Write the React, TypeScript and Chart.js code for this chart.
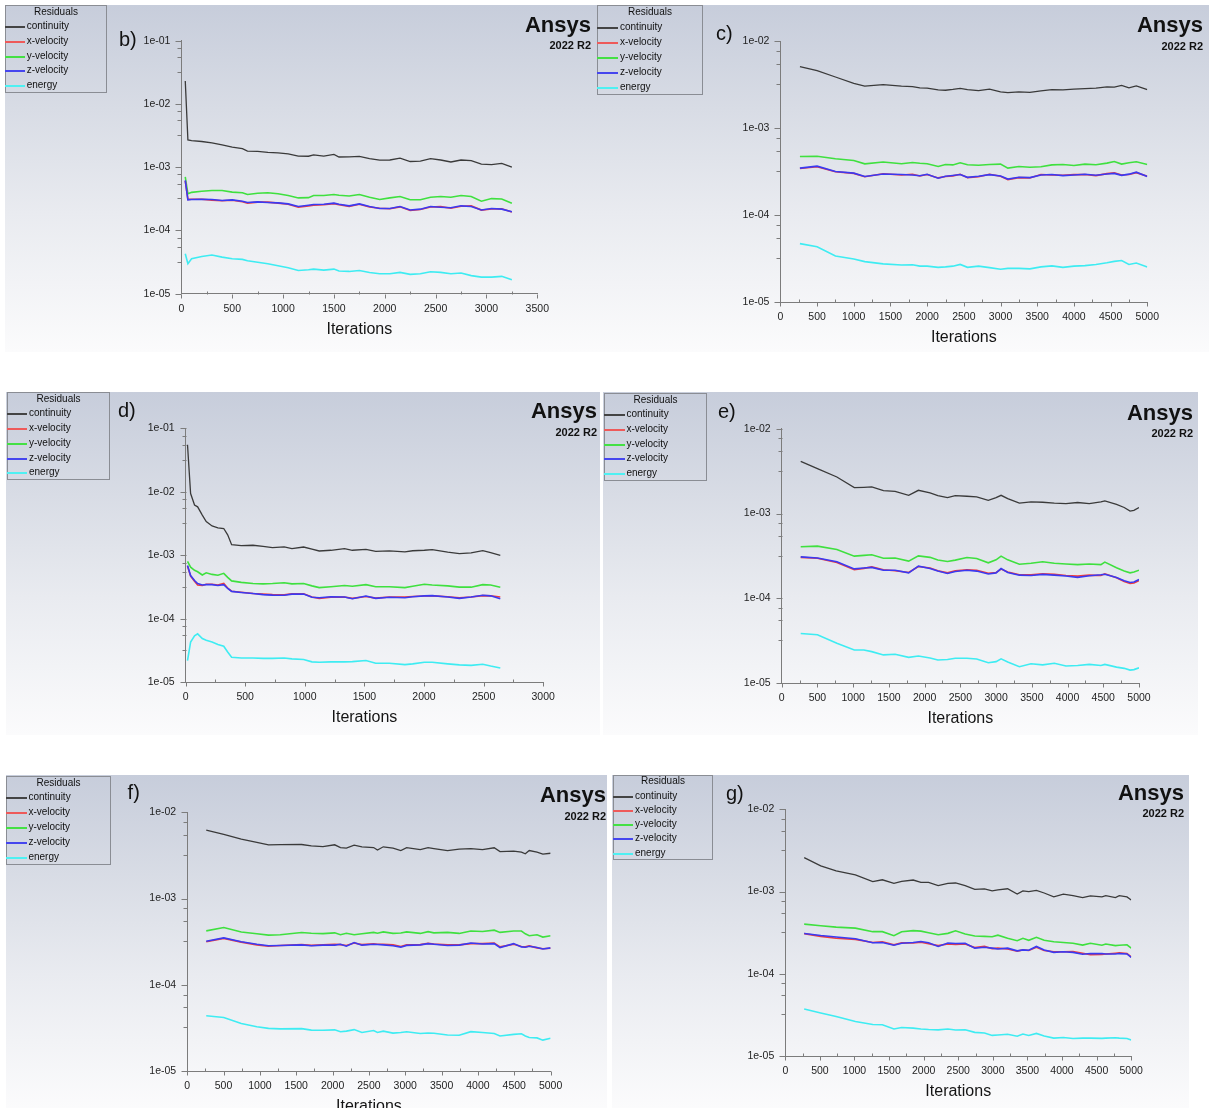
import React, { useEffect, useRef } from 'react';
import { Chart, registerables } from 'chart.js';

Chart.register(...registerables);
Chart.defaults.font.family = "'Liberation Sans', Arial, sans-serif";

// ---------------- data ----------------
const SERIES_NAMES = ['continuity', 'x-velocity', 'y-velocity', 'z-velocity', 'energy'];
const X_MAJOR_STEP = 500;
const X_MINOR_STEP = 250;
const Y_MIN_EXP = -5;
const Y_MINOR_MANTISSAS = [3.2, 5.5, 7.7];

// panel b)
const B_ITERS = [38, 64, 100, 200, 300, 400, 500, 600, 650, 750, 850, 950, 1050, 1150, 1250, 1300, 1400, 1500, 1550, 1650, 1750, 1850, 1950, 2050, 2150, 2250, 2350, 2450, 2550, 2650, 2750, 2850, 2950, 3050, 3150, 3250];
const B_CONTINUITY = [2.3e-2, 2.7e-3, 2.64e-3, 2.55e-3, 2.43e-3, 2.25e-3, 2.07e-3, 1.97e-3, 1.8e-3, 1.78e-3, 1.72e-3, 1.68e-3, 1.63e-3, 1.5e-3, 1.49e-3, 1.57e-3, 1.5e-3, 1.59e-3, 1.45e-3, 1.46e-3, 1.48e-3, 1.37e-3, 1.29e-3, 1.3e-3, 1.39e-3, 1.23e-3, 1.25e-3, 1.37e-3, 1.3e-3, 1.21e-3, 1.3e-3, 1.27e-3, 1.12e-3, 1.1e-3, 1.15e-3, 1.0e-3];
const B_XVEL = [6.1e-4, 3.1e-4, 3.12e-4, 3.12e-4, 3.02e-4, 2.95e-4, 3.0e-4, 2.85e-4, 2.7e-4, 2.8e-4, 2.8e-4, 2.7e-4, 2.6e-4, 2.33e-4, 2.45e-4, 2.5e-4, 2.55e-4, 2.65e-4, 2.55e-4, 2.4e-4, 2.6e-4, 2.35e-4, 2.25e-4, 2.2e-4, 2.36e-4, 2.07e-4, 2.15e-4, 2.35e-4, 2.38e-4, 2.25e-4, 2.42e-4, 2.45e-4, 2.1e-4, 2.18e-4, 2.2e-4, 1.96e-4];
const B_YVEL = [7.0e-4, 3.8e-4, 4.0e-4, 4.17e-4, 4.28e-4, 4.28e-4, 4.03e-4, 3.95e-4, 3.7e-4, 3.87e-4, 3.95e-4, 3.8e-4, 3.56e-4, 3.27e-4, 3.3e-4, 3.56e-4, 3.56e-4, 3.7e-4, 3.6e-4, 3.5e-4, 3.7e-4, 3.35e-4, 3.08e-4, 3.27e-4, 3.44e-4, 3.05e-4, 3.05e-4, 3.35e-4, 3.44e-4, 3.35e-4, 3.56e-4, 3.44e-4, 2.9e-4, 3.19e-4, 3.15e-4, 2.7e-4];
const B_ZVEL = [6.2e-4, 3.04e-4, 3.08e-4, 3.1e-4, 3.08e-4, 2.97e-4, 3.04e-4, 2.9e-4, 2.77e-4, 2.83e-4, 2.77e-4, 2.73e-4, 2.63e-4, 2.39e-4, 2.51e-4, 2.57e-4, 2.6e-4, 2.7e-4, 2.6e-4, 2.45e-4, 2.63e-4, 2.39e-4, 2.22e-4, 2.22e-4, 2.39e-4, 2.11e-4, 2.17e-4, 2.39e-4, 2.33e-4, 2.28e-4, 2.45e-4, 2.39e-4, 2.11e-4, 2.22e-4, 2.17e-4, 1.98e-4];
const B_ENERGY = [4.28e-5, 2.97e-5, 3.56e-5, 3.88e-5, 4.08e-5, 3.79e-5, 3.56e-5, 3.49e-5, 3.32e-5, 3.15e-5, 2.97e-5, 2.77e-5, 2.57e-5, 2.33e-5, 2.39e-5, 2.45e-5, 2.36e-5, 2.45e-5, 2.28e-5, 2.25e-5, 2.33e-5, 2.17e-5, 2.07e-5, 2.07e-5, 2.17e-5, 2.02e-5, 2.07e-5, 2.22e-5, 2.17e-5, 2.07e-5, 2.12e-5, 1.93e-5, 1.83e-5, 1.83e-5, 1.88e-5, 1.66e-5];

// panel c)
const C_ITERS = [266, 500, 750, 1000, 1150, 1400, 1650, 1800, 1900, 2000, 2150, 2250, 2350, 2450, 2550, 2700, 2850, 3000, 3100, 3250, 3400, 3550, 3700, 3850, 4000, 4150, 4300, 4450, 4550, 4650, 4750, 4850, 5000];
const C_CONTINUITY = [5.07e-3, 4.56e-3, 3.86e-3, 3.26e-3, 3.04e-3, 3.15e-3, 3.04e-3, 3.0e-3, 2.9e-3, 2.88e-3, 2.75e-3, 2.72e-3, 2.78e-3, 2.86e-3, 2.76e-3, 2.7e-3, 2.8e-3, 2.6e-3, 2.55e-3, 2.6e-3, 2.57e-3, 2.68e-3, 2.76e-3, 2.74e-3, 2.8e-3, 2.84e-3, 2.88e-3, 2.98e-3, 2.96e-3, 3.1e-3, 2.9e-3, 3.05e-3, 2.76e-3];
const C_XVEL = [3.43e-4, 3.6e-4, 3.15e-4, 3.02e-4, 2.76e-4, 2.99e-4, 2.9e-4, 2.95e-4, 2.82e-4, 2.93e-4, 2.68e-4, 2.78e-4, 2.83e-4, 2.95e-4, 2.7e-4, 2.76e-4, 2.95e-4, 2.8e-4, 2.56e-4, 2.7e-4, 2.68e-4, 2.93e-4, 2.9e-4, 2.88e-4, 2.92e-4, 2.93e-4, 2.85e-4, 3.0e-4, 3.06e-4, 2.9e-4, 2.93e-4, 3.08e-4, 2.8e-4];
const C_YVEL = [4.72e-4, 4.76e-4, 4.44e-4, 4.25e-4, 3.89e-4, 4.08e-4, 3.89e-4, 4.03e-4, 3.95e-4, 3.89e-4, 3.63e-4, 3.82e-4, 3.78e-4, 4.0e-4, 3.8e-4, 3.74e-4, 3.82e-4, 3.86e-4, 3.47e-4, 3.62e-4, 3.55e-4, 3.6e-4, 3.78e-4, 3.82e-4, 3.72e-4, 3.86e-4, 3.8e-4, 3.96e-4, 4.14e-4, 3.86e-4, 4.0e-4, 4.1e-4, 3.82e-4];
const C_ZVEL = [3.47e-4, 3.66e-4, 3.17e-4, 3.04e-4, 2.78e-4, 2.97e-4, 2.93e-4, 2.9e-4, 2.84e-4, 2.95e-4, 2.66e-4, 2.8e-4, 2.86e-4, 2.93e-4, 2.72e-4, 2.8e-4, 2.92e-4, 2.82e-4, 2.6e-4, 2.73e-4, 2.7e-4, 2.9e-4, 2.93e-4, 2.85e-4, 2.9e-4, 2.95e-4, 2.87e-4, 2.97e-4, 3.02e-4, 2.87e-4, 2.96e-4, 3.12e-4, 2.78e-4];
const C_ENERGY = [4.72e-5, 4.35e-5, 3.4e-5, 3.14e-5, 2.93e-5, 2.76e-5, 2.68e-5, 2.7e-5, 2.6e-5, 2.6e-5, 2.52e-5, 2.55e-5, 2.6e-5, 2.72e-5, 2.52e-5, 2.6e-5, 2.5e-5, 2.4e-5, 2.45e-5, 2.45e-5, 2.42e-5, 2.55e-5, 2.62e-5, 2.52e-5, 2.6e-5, 2.64e-5, 2.72e-5, 2.84e-5, 2.95e-5, 3.02e-5, 2.72e-5, 2.82e-5, 2.55e-5];

// panel d)
const D_ITERS = [16, 42, 75, 101, 140, 173, 222, 271, 320, 353, 386, 467, 565, 650, 729, 827, 892, 990, 1060, 1121, 1219, 1333, 1399, 1513, 1595, 1709, 1840, 1905, 2003, 2069, 2199, 2297, 2395, 2493, 2559, 2640];
const D_CONTINUITY = [5.5e-2, 9.4e-3, 6.2e-3, 5.8e-3, 4.3e-3, 3.4e-3, 2.9e-3, 2.7e-3, 2.64e-3, 2.1e-3, 1.47e-3, 1.42e-3, 1.44e-3, 1.38e-3, 1.32e-3, 1.36e-3, 1.27e-3, 1.35e-3, 1.25e-3, 1.17e-3, 1.2e-3, 1.27e-3, 1.2e-3, 1.24e-3, 1.15e-3, 1.17e-3, 1.13e-3, 1.18e-3, 1.2e-3, 1.23e-3, 1.12e-3, 1.06e-3, 1.09e-3, 1.18e-3, 1.1e-3, 1.0e-3];
const D_XVEL = [6.8e-4, 4.7e-4, 3.9e-4, 3.4e-4, 3.35e-4, 3.5e-4, 3.5e-4, 3.4e-4, 3.6e-4, 3.05e-4, 2.72e-4, 2.62e-4, 2.5e-4, 2.45e-4, 2.4e-4, 2.38e-4, 2.48e-4, 2.48e-4, 2.2e-4, 2.1e-4, 2.18e-4, 2.2e-4, 2.1e-4, 2.25e-4, 2.12e-4, 2.2e-4, 2.2e-4, 2.25e-4, 2.28e-4, 2.3e-4, 2.22e-4, 2.15e-4, 2.2e-4, 2.32e-4, 2.3e-4, 2.2e-4];
const D_YVEL = [8.0e-4, 6.5e-4, 5.8e-4, 5.5e-4, 4.9e-4, 5.3e-4, 5.0e-4, 4.85e-4, 5.2e-4, 4.5e-4, 3.95e-4, 3.75e-4, 3.6e-4, 3.55e-4, 3.6e-4, 3.7e-4, 3.55e-4, 3.6e-4, 3.3e-4, 3.1e-4, 3.2e-4, 3.35e-4, 3.25e-4, 3.45e-4, 3.2e-4, 3.2e-4, 3.1e-4, 3.25e-4, 3.5e-4, 3.4e-4, 3.3e-4, 3.15e-4, 3.15e-4, 3.45e-4, 3.4e-4, 3.15e-4];
const D_ZVEL = [6.9e-4, 4.8e-4, 4.0e-4, 3.6e-4, 3.4e-4, 3.45e-4, 3.45e-4, 3.35e-4, 3.45e-4, 3.0e-4, 2.7e-4, 2.6e-4, 2.5e-4, 2.4e-4, 2.36e-4, 2.35e-4, 2.45e-4, 2.45e-4, 2.18e-4, 2.15e-4, 2.22e-4, 2.2e-4, 2.07e-4, 2.28e-4, 2.1e-4, 2.18e-4, 2.15e-4, 2.22e-4, 2.3e-4, 2.32e-4, 2.2e-4, 2.1e-4, 2.2e-4, 2.35e-4, 2.3e-4, 2.07e-4];
const D_ENERGY = [2.2e-5, 4.3e-5, 5.4e-5, 5.8e-5, 4.9e-5, 4.6e-5, 4.3e-5, 3.95e-5, 3.7e-5, 3.0e-5, 2.48e-5, 2.42e-5, 2.42e-5, 2.38e-5, 2.38e-5, 2.42e-5, 2.34e-5, 2.28e-5, 2.1e-5, 2.07e-5, 2.1e-5, 2.1e-5, 2.12e-5, 2.2e-5, 2.0e-5, 2.0e-5, 1.9e-5, 1.95e-5, 2.07e-5, 2.07e-5, 1.95e-5, 1.88e-5, 1.85e-5, 1.92e-5, 1.8e-5, 1.68e-5];

// panel e)
const E_ITERS = [266, 500, 772, 1016, 1150, 1260, 1424, 1587, 1777, 1913, 2076, 2185, 2320, 2429, 2592, 2728, 2891, 3000, 3070, 3163, 3326, 3489, 3652, 3815, 3978, 4141, 4304, 4467, 4522, 4685, 4793, 4875, 4929, 5000];
const E_CONTINUITY = [4.13e-3, 3.38e-3, 2.7e-3, 2.02e-3, 2.04e-3, 2.06e-3, 1.86e-3, 1.83e-3, 1.64e-3, 1.88e-3, 1.75e-3, 1.63e-3, 1.54e-3, 1.63e-3, 1.6e-3, 1.57e-3, 1.43e-3, 1.54e-3, 1.64e-3, 1.5e-3, 1.33e-3, 1.37e-3, 1.36e-3, 1.33e-3, 1.31e-3, 1.35e-3, 1.31e-3, 1.37e-3, 1.41e-3, 1.28e-3, 1.18e-3, 1.07e-3, 1.09e-3, 1.18e-3];
const E_XVEL = [3.05e-4, 2.97e-4, 2.65e-4, 2.18e-4, 2.26e-4, 2.35e-4, 2.18e-4, 2.12e-4, 2.02e-4, 2.38e-4, 2.28e-4, 2.12e-4, 2.0e-4, 2.12e-4, 2.18e-4, 2.15e-4, 1.98e-4, 2.02e-4, 2.22e-4, 2.05e-4, 1.9e-4, 1.9e-4, 1.95e-4, 1.92e-4, 1.86e-4, 1.83e-4, 1.88e-4, 1.86e-4, 1.95e-4, 1.75e-4, 1.58e-4, 1.5e-4, 1.52e-4, 1.62e-4];
const E_YVEL = [4.06e-4, 4.13e-4, 3.77e-4, 3.15e-4, 3.22e-4, 3.27e-4, 2.98e-4, 3.0e-4, 2.75e-4, 3.17e-4, 3.05e-4, 2.83e-4, 2.73e-4, 2.83e-4, 3.04e-4, 2.95e-4, 2.63e-4, 2.85e-4, 3.15e-4, 2.85e-4, 2.53e-4, 2.6e-4, 2.7e-4, 2.6e-4, 2.55e-4, 2.5e-4, 2.55e-4, 2.5e-4, 2.68e-4, 2.3e-4, 2.1e-4, 2.0e-4, 2.05e-4, 2.15e-4];
const E_ZVEL = [3.09e-4, 3.0e-4, 2.7e-4, 2.23e-4, 2.28e-4, 2.32e-4, 2.15e-4, 2.15e-4, 2.0e-4, 2.4e-4, 2.25e-4, 2.1e-4, 1.97e-4, 2.08e-4, 2.15e-4, 2.1e-4, 1.94e-4, 2.0e-4, 2.25e-4, 2.02e-4, 1.88e-4, 1.86e-4, 1.92e-4, 1.88e-4, 1.84e-4, 1.77e-4, 1.85e-4, 1.9e-4, 1.93e-4, 1.77e-4, 1.62e-4, 1.54e-4, 1.56e-4, 1.67e-4];
const E_ENERGY = [3.87e-5, 3.74e-5, 2.96e-5, 2.47e-5, 2.47e-5, 2.36e-5, 2.16e-5, 2.2e-5, 2.02e-5, 2.1e-5, 1.99e-5, 1.88e-5, 1.91e-5, 1.97e-5, 1.97e-5, 1.93e-5, 1.75e-5, 1.8e-5, 1.94e-5, 1.78e-5, 1.57e-5, 1.7e-5, 1.65e-5, 1.72e-5, 1.6e-5, 1.62e-5, 1.67e-5, 1.62e-5, 1.67e-5, 1.55e-5, 1.5e-5, 1.43e-5, 1.45e-5, 1.52e-5];

// panel f)
const F_ITERS = [262, 503, 744, 958, 1119, 1280, 1574, 1708, 1868, 2029, 2109, 2190, 2297, 2404, 2565, 2618, 2698, 2832, 2939, 3019, 3207, 3314, 3394, 3582, 3742, 3903, 4063, 4224, 4304, 4492, 4599, 4652, 4706, 4813, 4893, 5000];
const F_CONTINUITY = [6.2e-3, 5.56e-3, 4.9e-3, 4.49e-3, 4.19e-3, 4.22e-3, 4.23e-3, 4.08e-3, 4.0e-3, 4.2e-3, 3.9e-3, 3.85e-3, 4.15e-3, 3.98e-3, 3.9e-3, 3.65e-3, 3.98e-3, 3.85e-3, 3.6e-3, 3.9e-3, 3.7e-3, 3.9e-3, 3.8e-3, 3.6e-3, 3.75e-3, 3.8e-3, 3.7e-3, 3.88e-3, 3.5e-3, 3.55e-3, 3.45e-3, 3.3e-3, 3.6e-3, 3.45e-3, 3.27e-3, 3.35e-3];
const F_XVEL = [3.15e-4, 3.45e-4, 3.12e-4, 2.9e-4, 2.8e-4, 2.85e-4, 2.92e-4, 2.86e-4, 2.9e-4, 2.95e-4, 2.92e-4, 2.85e-4, 3.05e-4, 2.92e-4, 2.98e-4, 2.95e-4, 2.95e-4, 2.9e-4, 2.78e-4, 2.9e-4, 2.92e-4, 3.02e-4, 2.97e-4, 2.9e-4, 2.9e-4, 3.0e-4, 3.0e-4, 3.05e-4, 2.75e-4, 2.95e-4, 2.78e-4, 2.75e-4, 2.82e-4, 2.68e-4, 2.62e-4, 2.65e-4];
const F_YVEL = [4.22e-4, 4.61e-4, 4.1e-4, 3.9e-4, 3.76e-4, 3.8e-4, 4.04e-4, 3.96e-4, 3.92e-4, 4.0e-4, 3.8e-4, 3.95e-4, 3.8e-4, 3.9e-4, 4.05e-4, 3.96e-4, 4.1e-4, 3.94e-4, 3.98e-4, 4.1e-4, 3.94e-4, 4.13e-4, 4.0e-4, 4.05e-4, 3.94e-4, 4.2e-4, 4.15e-4, 4.3e-4, 4.05e-4, 4.2e-4, 4.2e-4, 3.9e-4, 3.7e-4, 3.8e-4, 3.57e-4, 3.7e-4];
const F_ZVEL = [3.2e-4, 3.5e-4, 3.15e-4, 2.95e-4, 2.83e-4, 2.85e-4, 2.9e-4, 2.83e-4, 2.88e-4, 2.88e-4, 2.95e-4, 2.8e-4, 3.09e-4, 2.88e-4, 2.95e-4, 2.93e-4, 2.9e-4, 2.83e-4, 2.73e-4, 2.86e-4, 2.9e-4, 3.0e-4, 2.95e-4, 2.85e-4, 2.88e-4, 3.05e-4, 2.97e-4, 3.0e-4, 2.7e-4, 3.0e-4, 2.75e-4, 2.72e-4, 2.8e-4, 2.7e-4, 2.6e-4, 2.68e-4];
const F_ENERGY = [4.37e-5, 4.18e-5, 3.56e-5, 3.26e-5, 3.12e-5, 3.08e-5, 3.1e-5, 2.98e-5, 2.97e-5, 3.0e-5, 2.85e-5, 2.9e-5, 3.02e-5, 2.8e-5, 2.95e-5, 2.8e-5, 2.9e-5, 2.75e-5, 2.8e-5, 2.85e-5, 2.72e-5, 2.76e-5, 2.74e-5, 2.62e-5, 2.6e-5, 2.86e-5, 2.8e-5, 2.72e-5, 2.55e-5, 2.66e-5, 2.7e-5, 2.55e-5, 2.45e-5, 2.42e-5, 2.28e-5, 2.4e-5];

// panel g)
const G_ITERS = [273, 512, 735, 1013, 1264, 1403, 1570, 1682, 1849, 1960, 2071, 2210, 2350, 2461, 2600, 2739, 2879, 2990, 3073, 3213, 3352, 3435, 3519, 3630, 3742, 3881, 4020, 4159, 4298, 4410, 4577, 4633, 4772, 4827, 4939, 5000];
const G_CONTINUITY = [2.58e-3, 2.05e-3, 1.78e-3, 1.59e-3, 1.32e-3, 1.39e-3, 1.26e-3, 1.33e-3, 1.38e-3, 1.29e-3, 1.29e-3, 1.18e-3, 1.26e-3, 1.27e-3, 1.18e-3, 1.06e-3, 1.08e-3, 1.02e-3, 1.05e-3, 1.08e-3, 9.3e-4, 1.02e-3, 1.0e-3, 1.03e-3, 9.6e-4, 8.6e-4, 9.3e-4, 8.9e-4, 8.45e-4, 8.85e-4, 8.6e-4, 8.9e-4, 8.45e-4, 8.9e-4, 8.6e-4, 7.9e-4];
const G_XVEL = [3.08e-4, 2.85e-4, 2.7e-4, 2.62e-4, 2.4e-4, 2.45e-4, 2.25e-4, 2.38e-4, 2.37e-4, 2.42e-4, 2.32e-4, 2.2e-4, 2.3e-4, 2.28e-4, 2.3e-4, 2.08e-4, 2.15e-4, 2.02e-4, 2.05e-4, 2.0e-4, 1.88e-4, 1.95e-4, 1.92e-4, 2.1e-4, 1.92e-4, 1.85e-4, 1.85e-4, 1.86e-4, 1.78e-4, 1.7e-4, 1.72e-4, 1.74e-4, 1.78e-4, 1.8e-4, 1.76e-4, 1.6e-4];
const G_YVEL = [4.01e-4, 3.83e-4, 3.69e-4, 3.59e-4, 3.25e-4, 3.25e-4, 2.9e-4, 3.25e-4, 3.35e-4, 3.3e-4, 3.15e-4, 2.98e-4, 3.1e-4, 3.33e-4, 3.05e-4, 2.88e-4, 2.85e-4, 2.82e-4, 2.95e-4, 2.7e-4, 2.52e-4, 2.7e-4, 2.55e-4, 2.78e-4, 2.55e-4, 2.45e-4, 2.4e-4, 2.35e-4, 2.23e-4, 2.35e-4, 2.22e-4, 2.3e-4, 2.2e-4, 2.22e-4, 2.25e-4, 2.05e-4];
const G_ZVEL = [3.09e-4, 2.92e-4, 2.8e-4, 2.66e-4, 2.38e-4, 2.4e-4, 2.22e-4, 2.35e-4, 2.4e-4, 2.47e-4, 2.38e-4, 2.15e-4, 2.36e-4, 2.33e-4, 2.35e-4, 2.05e-4, 2.1e-4, 2.05e-4, 2.0e-4, 2.05e-4, 1.9e-4, 1.95e-4, 1.93e-4, 2.15e-4, 1.95e-4, 1.82e-4, 1.85e-4, 1.82e-4, 1.73e-4, 1.76e-4, 1.76e-4, 1.74e-4, 1.74e-4, 1.76e-4, 1.74e-4, 1.58e-4];
const G_ENERGY = [3.72e-5, 3.33e-5, 3.03e-5, 2.63e-5, 2.42e-5, 2.4e-5, 2.13e-5, 2.22e-5, 2.18e-5, 2.13e-5, 2.1e-5, 2.08e-5, 2.13e-5, 2.07e-5, 2.08e-5, 1.94e-5, 1.9e-5, 1.78e-5, 1.8e-5, 1.84e-5, 1.74e-5, 1.85e-5, 1.78e-5, 1.88e-5, 1.75e-5, 1.65e-5, 1.68e-5, 1.63e-5, 1.65e-5, 1.65e-5, 1.64e-5, 1.65e-5, 1.67e-5, 1.65e-5, 1.63e-5, 1.56e-5];

// ---------------- styles / layout ----------------
const SERIES_COLORS = ['#3a3a3a', '#f23c3c', '#3fe03f', '#3a3af2', '#3eecf2'];
const LEGEND_COLORS = ['#444444', '#ee5a5a', '#44e044', '#4646ee', '#4ef0f2'];
const DRAW_ORDER = [0, 2, 3, 1, 4];
const AXIS_COLOR = '#7c7c7c';
const FONT = "'Liberation Sans', Arial, sans-serif";
const CANVAS_H = 350;
const Y_AXIS_W = 60;
const X_AXIS_H = 45;
const BG = 'linear-gradient(180deg, #c7cddb 0%, #d8dce5 30%, #e9ebf0 60%, #fbfbfc 100%)';

type Box = { x: number; y: number; w: number; h: number };
type PanelCfg = {
  label: string;
  box: Box;
  area: { l: number; t: number; r: number; b: number };
  xMax: number;
  yTopExp: number;
  labelPos: { x: number; cy: number };
  legend: Box & { titleY: number; items: number[]; textX: number; lineX2: number };
  logo: { right: number; y1: number; y2: number };
  iters: number[];
  series: number[][];
};

const PANELS: PanelCfg[] = [
  {
    label: 'b)', box: { x: 5, y: 5, w: 592, h: 347 }, area: { l: 181.4, t: 40.7, r: 537.3, b: 293.7 },
    xMax: 3500, yTopExp: -1, labelPos: { x: 119, cy: 41 },
    legend: { x: 5, y: 5, w: 102, h: 88, titleY: 13.3, items: [27.3, 42, 56.7, 71, 85.7], textX: 26.7, lineX2: 25 },
    logo: { right: 591, y1: 27, y2: 45 },
    iters: B_ITERS, series: [B_CONTINUITY, B_XVEL, B_YVEL, B_ZVEL, B_ENERGY],
  },
  {
    label: 'c)', box: { x: 597, y: 5, w: 612, h: 347 }, area: { l: 780.4, t: 41, r: 1147.3, b: 302.3 },
    xMax: 5000, yTopExp: -2, labelPos: { x: 716, cy: 35 },
    legend: { x: 597, y: 5, w: 106, h: 90, titleY: 12.7, items: [27.7, 42.7, 57.7, 72.7, 87.7], textX: 620, lineX2: 618 },
    logo: { right: 1203, y1: 27, y2: 46 },
    iters: C_ITERS, series: [C_CONTINUITY, C_XVEL, C_YVEL, C_ZVEL, C_ENERGY],
  },
  {
    label: 'd)', box: { x: 6, y: 392, w: 594, h: 343 }, area: { l: 185.6, t: 428.3, r: 543.2, b: 682.3 },
    xMax: 3000, yTopExp: -1, labelPos: { x: 118, cy: 412 },
    legend: { x: 7, y: 392, w: 103, h: 88, titleY: 400, items: [414.3, 429.3, 444, 458.7, 473.3], textX: 29, lineX2: 27 },
    logo: { right: 597, y1: 413, y2: 432 },
    iters: D_ITERS, series: [D_CONTINUITY, D_XVEL, D_YVEL, D_ZVEL, D_ENERGY],
  },
  {
    label: 'e)', box: { x: 603, y: 392, w: 595, h: 343 }, area: { l: 781.7, t: 428.7, r: 1139, b: 683.3 },
    xMax: 5000, yTopExp: -2, labelPos: { x: 718, cy: 413 },
    legend: { x: 604, y: 393, w: 103, h: 88, titleY: 400.7, items: [415.3, 430, 444.7, 459.3, 474], textX: 626.4, lineX2: 625 },
    logo: { right: 1193, y1: 415, y2: 433 },
    iters: E_ITERS, series: [E_CONTINUITY, E_XVEL, E_YVEL, E_ZVEL, E_ENERGY],
  },
  {
    label: 'f)', box: { x: 6, y: 775, w: 601, h: 333 }, area: { l: 187.2, t: 812.3, r: 550.6, b: 1071 },
    xMax: 5000, yTopExp: -2, labelPos: { x: 127.6, cy: 794 },
    legend: { x: 6, y: 776, w: 105, h: 89, titleY: 783.7, items: [798.3, 813.3, 828.3, 843.3, 858.3], textX: 28.4, lineX2: 27 },
    logo: { right: 606, y1: 797, y2: 816 },
    iters: F_ITERS, series: [F_CONTINUITY, F_XVEL, F_YVEL, F_ZVEL, F_ENERGY],
  },
  {
    label: 'g)', box: { x: 612, y: 775, w: 577, h: 333 }, area: { l: 785.3, t: 809.3, r: 1131.2, b: 1056 },
    xMax: 5000, yTopExp: -2, labelPos: { x: 726, cy: 795 },
    legend: { x: 613, y: 775, w: 100, h: 85, titleY: 782.3, items: [796.7, 811, 825.3, 839.3, 853.7], textX: 635, lineX2: 633 },
    logo: { right: 1184, y1: 795, y2: 813 },
    iters: G_ITERS, series: [G_CONTINUITY, G_XVEL, G_YVEL, G_ZVEL, G_ENERGY],
  },
];

const isDecade = (v: number) => {
  const e = Math.log10(v);
  return Math.abs(e - Math.round(e)) < 1e-6;
};
const fmtDecade = (v: number) => {
  const e = Math.round(Math.log10(v));
  return (e < 0 ? '1e-' : '1e+') + String(Math.abs(e)).padStart(2, '0');
};

const tickMarks = {
  id: 'tickMarks',
  afterDraw(chart: any) {
    const { ctx, chartArea: a, scales } = chart;
    const xs = scales.x;
    const ys = scales.y;
    ctx.save();
    ctx.strokeStyle = AXIS_COLOR;
    ctx.lineWidth = 1;
    ctx.beginPath();
    const bottom = Math.round(a.bottom) + 0.5;
    const left = Math.round(a.left) + 0.5;
    xs.ticks.forEach((t: any) => {
      const px = Math.round(xs.getPixelForValue(t.value)) + 0.5;
      if (t.value % X_MAJOR_STEP === 0) {
        ctx.moveTo(px, bottom);
        ctx.lineTo(px, bottom + 4);
      } else {
        ctx.moveTo(px, bottom);
        ctx.lineTo(px, bottom - 3);
      }
    });
    ys.ticks.forEach((t: any) => {
      const py = Math.round(ys.getPixelForValue(t.value)) + 0.5;
      ctx.moveTo(left - (isDecade(t.value) ? 6 : 4), py);
      ctx.lineTo(left, py);
    });
    ctx.stroke();
    ctx.restore();
  },
};

function ResidualChart({ cfg }: { cfg: PanelCfg }) {
  const ref = useRef<HTMLCanvasElement>(null);
  useEffect(() => {
    const canvas = ref.current;
    if (!canvas) return;
    const { box, area } = cfg;
    const rel = { l: area.l - box.x, t: area.t - box.y, r: area.r - box.x, b: area.b - box.y };
    const xTicks: number[] = [];
    for (let v = 0; v <= cfg.xMax; v += X_MINOR_STEP) xTicks.push(v);
    const yTicks: number[] = [];
    for (let e = Y_MIN_EXP; e < cfg.yTopExp; e++) {
      yTicks.push(Math.pow(10, e));
      Y_MINOR_MANTISSAS.forEach((m) => yTicks.push(Number((m * Math.pow(10, e)).toPrecision(6))));
    }
    yTicks.push(Math.pow(10, cfg.yTopExp));

    const chart = new Chart(canvas, {
      type: 'line',
      data: {
        datasets: SERIES_NAMES.map((name, k) => ({
          label: name,
          data: cfg.iters.map((x, i) => ({ x, y: cfg.series[k][i] })),
          borderColor: SERIES_COLORS[k],
          backgroundColor: SERIES_COLORS[k],
          borderWidth: k === 0 ? 1.3 : 1.6,
          pointRadius: 0,
          fill: false,
          tension: 0,
          order: DRAW_ORDER[k],
        })),
      },
      options: {
        responsive: false,
        animation: false,
        events: [],
        layout: {
          autoPadding: false,
          padding: {
            left: rel.l - Y_AXIS_W,
            top: rel.t,
            right: box.w - rel.r,
            bottom: CANVAS_H - rel.b - X_AXIS_H,
          },
        },
        plugins: { legend: { display: false }, tooltip: { enabled: false }, title: { display: false } },
        scales: {
          x: {
            type: 'linear',
            min: 0,
            max: cfg.xMax,
            afterBuildTicks: (s: any) => { s.ticks = xTicks.map((value) => ({ value })); },
            afterFit: (s: any) => { s.height = X_AXIS_H; },
            grid: { display: false, drawTicks: false, tickLength: 0 },
            border: { display: true, color: AXIS_COLOR, width: 1 },
            ticks: {
              autoSkip: false,
              maxRotation: 0,
              padding: 9,
              color: '#1e1e1e',
              font: { size: 10.5, family: FONT },
              callback: (v: any) => (Number(v) % X_MAJOR_STEP === 0 ? String(v) : ''),
            },
            title: { display: true, text: 'Iterations', color: '#141414', font: { size: 16, family: FONT }, padding: 0 },
          },
          y: {
            type: 'logarithmic',
            min: Math.pow(10, Y_MIN_EXP),
            max: Math.pow(10, cfg.yTopExp),
            afterBuildTicks: (s: any) => { s.ticks = yTicks.map((value) => ({ value, major: isDecade(value) })); },
            afterFit: (s: any) => { s.width = Y_AXIS_W; },
            grid: { display: false, drawTicks: false, tickLength: 0 },
            border: { display: true, color: AXIS_COLOR, width: 1 },
            ticks: {
              autoSkip: false,
              padding: 11,
              color: '#1e1e1e',
              font: { size: 10.5, family: FONT },
              callback: (v: any) => (isDecade(Number(v)) ? fmtDecade(Number(v)) : ''),
            },
          },
        },
      } as any,
      plugins: [tickMarks],
    });
    return () => chart.destroy();
  }, [cfg]);

  return (
    <div
      style={{
        position: 'absolute', left: cfg.box.x, top: cfg.box.y, width: cfg.box.w, height: cfg.box.h,
        background: BG, overflow: 'hidden',
      }}
    >
      <canvas
        ref={ref}
        width={cfg.box.w}
        height={CANVAS_H}
        style={{ position: 'absolute', left: 0, top: 0, width: cfg.box.w, height: CANVAS_H, display: 'block' }}
      />
    </div>
  );
}

function Txt(props: { x: number; cy: number; size: number; bold?: boolean; right?: boolean; k?: number; children: React.ReactNode }) {
  const { x, cy, size, bold, right, k = 0.6, children } = props;
  const w = 240;
  return (
    <div
      style={{
        position: 'absolute',
        left: right ? x - w : x,
        width: w,
        top: cy - k * size,
        fontSize: size,
        lineHeight: `${size}px`,
        fontWeight: bold ? 700 : 400,
        fontFamily: FONT,
        textAlign: right ? 'right' : 'left',
        color: '#111',
        whiteSpace: 'nowrap',
      }}
    >
      {children}
    </div>
  );
}

function Overlay({ cfg }: { cfg: PanelCfg }) {
  const L = cfg.legend;
  return (
    <>
      <div
        style={{
          position: 'absolute', left: L.x, top: L.y, width: L.w, height: L.h,
          border: '1px solid #8a8d94', boxSizing: 'border-box',
        }}
      />
      <div
        style={{
          position: 'absolute', left: L.x, width: L.w, top: L.titleY - 6, fontSize: 10, lineHeight: '10px',
          fontFamily: FONT, textAlign: 'center', color: '#111',
        }}
      >
        Residuals
      </div>
      {SERIES_NAMES.map((name, k) => (
        <React.Fragment key={name}>
          <div
            style={{
              position: 'absolute', left: Math.round(L.x), top: Math.round(L.items[k]) - 1,
              width: Math.round(L.lineX2 - L.x), height: 2,
              background: LEGEND_COLORS[k],
            }}
          />
          <Txt x={L.textX} cy={L.items[k]} size={10}>{name}</Txt>
        </React.Fragment>
      ))}
      <Txt x={cfg.labelPos.x} cy={cfg.labelPos.cy} size={20} k={0.585}>{cfg.label}</Txt>
      <Txt x={cfg.logo.right} cy={cfg.logo.y1} size={22} bold right k={0.6}>Ansys</Txt>
      <Txt x={cfg.logo.right} cy={cfg.logo.y2} size={11} bold right k={0.49}>2022 R2</Txt>
    </>
  );
}

export default function App() {
  return (
    <div
      style={{
        position: 'absolute', left: 0, top: 0, width: 1209, height: 1108, overflow: 'hidden',
        background: '#ffffff', fontFamily: FONT,
      }}
    >
      {PANELS.map((p) => (
        <ResidualChart key={p.label} cfg={p} />
      ))}
      {PANELS.map((p) => (
        <Overlay key={'o' + p.label} cfg={p} />
      ))}
    </div>
  );
}
